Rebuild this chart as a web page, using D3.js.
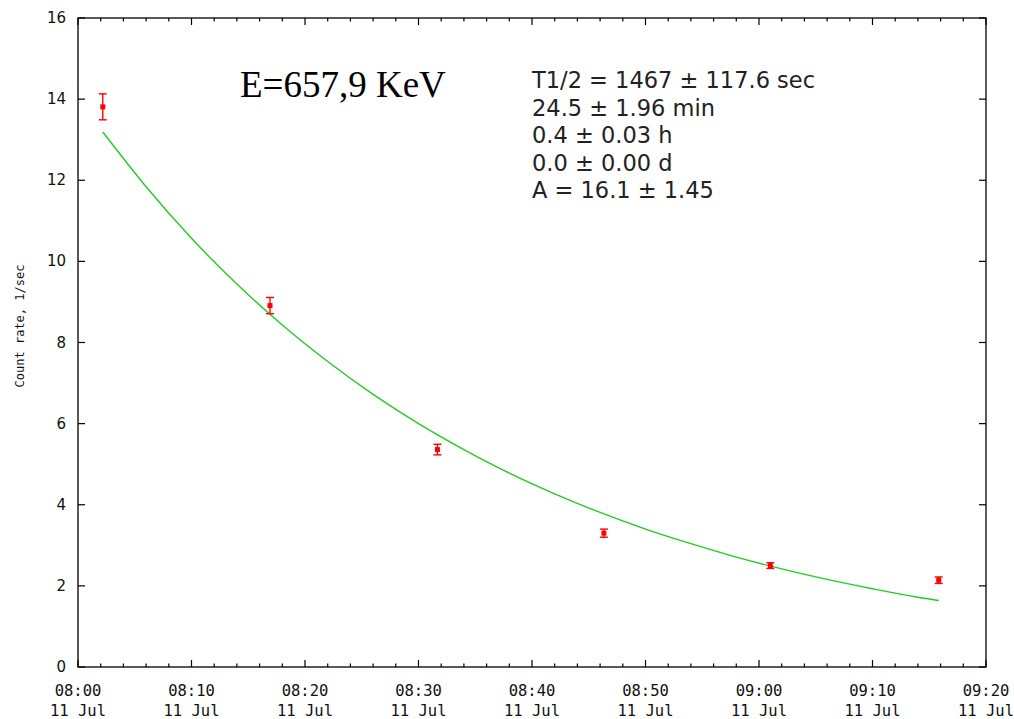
<html>
<head>
<script src="https://d3js.org/d3.v7.min.js"></script>
<style>
  body { margin: 0; background: #fff; }
</style>
</head>
<body>
<svg width="1014" height="719" id="chart" style="background:#fff"></svg>
<script>
// measured points (time, count rate, error)
var pointTimes = ["08:02:11", "08:16:55", "08:31:40", "08:46:20", "09:01:00", "09:15:50"];
var pointRates = [13.81, 8.91, 5.36, 3.30, 2.50, 2.14];
var pointErrors = [0.32, 0.20, 0.13, 0.10, 0.07, 0.08];

// fitted decay curve
var fitTimes = ["08:02:11", "08:06:00", "08:10:00", "08:14:00", "08:18:00", "08:22:00", "08:26:00",
                "08:30:00", "08:34:00", "08:38:00", "08:42:00", "08:46:00", "08:50:00", "08:54:00",
                "08:58:00", "09:02:00", "09:06:00", "09:10:00", "09:14:00", "09:15:50"];
var fitRates = [13.19, 11.84, 10.57, 9.44, 8.43, 7.53, 6.72, 6.00, 5.36, 4.78, 4.27,
                3.81, 3.40, 3.04, 2.71, 2.42, 2.16, 1.93, 1.72, 1.64];

var xDomain = ["08:00:00", "09:20:00"];
var yTicks = [0, 2, 4, 6, 8, 10, 12, 14, 16];

var annotation = ["T1/2 = 1467 \u00b1 117.6 sec", "24.5 \u00b1 1.96 min", "0.4 \u00b1 0.03 h",
                  "0.0 \u00b1 0.00 d", "A = 16.1 \u00b1 1.45"];
var title = "E=657,9 KeV";
var yLabel = "Count rate, 1/sec";

var parse = function(s) { return new Date(2000, 6, 11, +s.slice(0,2), +s.slice(3,5), +s.slice(6,8)); };

var mLeft = 78, mRight = 986, mTop = 18, mBottom = 667;

var x = d3.scaleTime().domain(xDomain.map(parse)).range([mLeft, mRight]);
var y = d3.scaleLinear().domain([0, 16]).range([mBottom, mTop]);

var svg = d3.select("#chart");

var majorTicks = x.ticks(d3.timeMinute.every(10));
var minorTicks = x.ticks(d3.timeMinute.every(2));

// frame
svg.append("rect")
  .attr("x", mLeft).attr("y", mTop)
  .attr("width", mRight - mLeft).attr("height", mBottom - mTop)
  .attr("fill", "none").attr("stroke", "#000").attr("stroke-width", 1.3);

// x ticks, bottom and top (mirrored)
var tickG = svg.append("g").attr("stroke", "#000").attr("stroke-width", 1.2);
minorTicks.forEach(function(t) {
  var major = t.getMinutes() % 10 === 0;
  var len = major ? 7 : 3.5;
  tickG.append("line").attr("x1", x(t)).attr("x2", x(t)).attr("y1", mBottom).attr("y2", mBottom - len);
  tickG.append("line").attr("x1", x(t)).attr("x2", x(t)).attr("y1", mTop).attr("y2", mTop + len);
});
yTicks.forEach(function(v) {
  tickG.append("line").attr("x1", mLeft).attr("x2", mLeft + 7).attr("y1", y(v)).attr("y2", y(v));
  tickG.append("line").attr("x1", mRight).attr("x2", mRight - 7).attr("y1", y(v)).attr("y2", y(v));
});

// x tick labels
var fmtTime = d3.timeFormat("%H:%M"), fmtDay = d3.timeFormat("%d %b");
var xl = svg.append("g")
  .attr("font-family", "DejaVu Sans Mono, monospace")
  .attr("font-size", 15.5)
  .attr("fill", "#111")
  .attr("text-anchor", "middle");
majorTicks.forEach(function(t) {
  xl.append("text").attr("x", x(t)).attr("y", 696).text(fmtTime(t));
  xl.append("text").attr("x", x(t)).attr("y", 716).text(fmtDay(t));
});

// y tick labels
svg.append("g")
  .attr("font-family", "DejaVu Sans, sans-serif")
  .attr("font-size", 15)
  .attr("fill", "#111")
  .attr("text-anchor", "end")
  .selectAll("text").data(yTicks).enter().append("text")
  .attr("x", 66).attr("y", function(d) { return y(d) + 5; })
  .text(function(d) { return d; });

// y axis title
svg.append("text")
  .attr("transform", "translate(24," + 326 + ") rotate(-90)")
  .attr("text-anchor", "middle")
  .attr("font-family", "DejaVu Sans Mono, monospace")
  .attr("font-size", 12)
  .attr("fill", "#111")
  .text(yLabel);

// fit curve
var fitData = fitTimes.map(function(t, i) { return { t: parse(t), v: fitRates[i] }; });
var line = d3.line()
  .x(function(d) { return x(d.t); })
  .y(function(d) { return y(d.v); })
  .curve(d3.curveMonotoneX);
svg.append("path")
  .attr("d", line(fitData))
  .attr("fill", "none")
  .attr("stroke", "#22cc22")
  .attr("stroke-width", 1.4);

// data points with error bars
var pts = pointTimes.map(function(t, i) { return { t: parse(t), v: pointRates[i], e: pointErrors[i] }; });
var pg = svg.append("g").attr("stroke", "#ff0000").attr("stroke-width", 1.4);
pts.forEach(function(d) {
  var px = x(d.t);
  pg.append("line").attr("x1", px).attr("x2", px).attr("y1", y(d.v + d.e)).attr("y2", y(d.v - d.e));
  pg.append("line").attr("x1", px - 4).attr("x2", px + 4).attr("y1", y(d.v + d.e)).attr("y2", y(d.v + d.e));
  pg.append("line").attr("x1", px - 4).attr("x2", px + 4).attr("y1", y(d.v - d.e)).attr("y2", y(d.v - d.e));
  pg.append("rect").attr("x", px - 2.5).attr("y", y(d.v) - 2.5).attr("width", 5).attr("height", 5)
    .attr("fill", "#ff0000").attr("stroke", "none");
});

// title
svg.append("text")
  .attr("x", 240).attr("y", 97)
  .attr("font-family", "Liberation Serif, Times New Roman, serif")
  .attr("font-size", 37)
  .attr("fill", "#000")
  .text(title);

// fit results
svg.append("g")
  .attr("font-family", "DejaVu Sans, sans-serif")
  .attr("font-size", 22.5)
  .attr("fill", "#222")
  .selectAll("text").data(annotation).enter().append("text")
  .attr("x", 532)
  .attr("y", function(d, i) { return 88 + i * 27.6; })
  .text(function(d) { return d; });
</script>
</body>
</html>
